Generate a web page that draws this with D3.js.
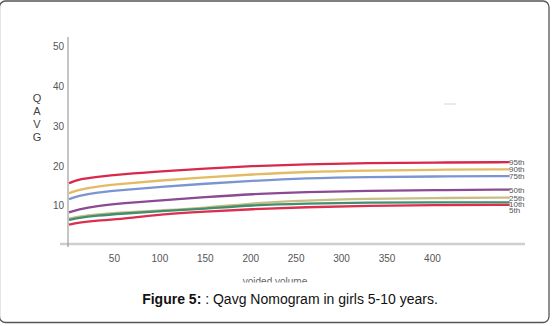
<!DOCTYPE html>
<html>
<head>
<meta charset="utf-8">
<script src="https://cdn.jsdelivr.net/npm/d3@7"></script>
<style>
  html, body { margin: 0; padding: 0; background: #fff; }
  svg { display: block; font-family: "Liberation Sans", Arial, sans-serif; }
</style>
</head>
<body>
<div id="chart"></div>
<script>
// voided volume (ml) sampled along each curve
const volumes = [0, 10, 30, 60, 100, 150, 200, 260, 330, 400, 485];

const p95 = [15.7, 16.7, 17.3, 18.0, 18.7, 19.4, 20.0, 20.5, 20.8, 20.9, 21.0];
const p90 = [13.2, 14.0, 14.9, 15.6, 16.4, 17.2, 17.9, 18.6, 18.9, 19.1, 19.2];
const p75 = [11.7, 12.5, 13.4, 14.0, 14.8, 15.6, 16.3, 17.0, 17.3, 17.4, 17.5];
const p50 = [8.4, 9.1, 10.0, 10.7, 11.4, 12.2, 13.0, 13.5, 13.8, 14.0, 14.1];
const p25 = [6.8, 7.3, 7.9, 8.4, 8.9, 9.5, 10.7, 11.4, 11.8, 12.0, 12.1];
const p10 = [6.5, 7.0, 7.6, 8.1, 8.7, 9.3, 10.2, 10.6, 10.9, 10.9, 10.9];
const p5 = [5.3, 5.8, 6.3, 6.8, 7.9, 8.6, 9.2, 9.7, 10.1, 10.2, 10.3];

const seriesNames = ["95th", "90th", "75th", "50th", "25th", "10th", "5th"];
const seriesValues = [p95, p90, p75, p50, p25, p10, p5];
const seriesColors = ["#d8284c", "#e2bb63", "#7b95d2", "#8c4a94", "#c9bd86", "#3f8f70", "#dc2f4e"];

const xTicks = [50, 100, 150, 200, 250, 300, 350, 400];
const yTicks = [10, 20, 30, 40, 50];
const yLabelLetters = ["Q", "A", "V", "G"];

const width = 553, height = 326;

const x = d3.scaleLinear().domain([0, 500]).range([69, 523.3]);
const y = d3.scaleLinear().domain([0, 50]).range([245.8, 46.7]);

const svg = d3.select("#chart").append("svg")
  .attr("width", width)
  .attr("height", height);

// frame
svg.append("rect")
  .attr("x", -0.5).attr("y", 1)
  .attr("width", 549.5).attr("height", 321.5)
  .attr("rx", 6)
  .attr("fill", "none")
  .attr("stroke", "#555")
  .attr("stroke-width", 1.3);

// x axis (thick gray bar)
svg.append("line")
  .attr("x1", 60).attr("x2", 525)
  .attr("y1", 244).attr("y2", 244)
  .attr("stroke", "#cfcfcf")
  .attr("stroke-width", 2.5);

// y axis
svg.append("line")
  .attr("x1", 68).attr("x2", 68)
  .attr("y1", 37).attr("y2", 247)
  .attr("stroke", "#8a8a8a")
  .attr("stroke-width", 1);

svg.append("g")
  .selectAll("text")
  .data(yTicks)
  .join("text")
  .attr("x", 64)
  .attr("y", (d) => y(d) + 3.5)
  .attr("text-anchor", "end")
  .attr("font-size", 10)
  .attr("fill", "#555")
  .text((d) => d);

svg.append("g")
  .selectAll("text")
  .data(xTicks)
  .join("text")
  .attr("x", (d) => x(d))
  .attr("y", 262)
  .attr("text-anchor", "middle")
  .attr("font-size", 10)
  .attr("fill", "#555")
  .text((d) => d);

svg.append("g")
  .selectAll("text")
  .data(yLabelLetters)
  .join("text")
  .attr("x", 37)
  .attr("y", (d, i) => 102 + i * 13)
  .attr("text-anchor", "middle")
  .attr("font-size", 11)
  .attr("fill", "#444")
  .text((d) => d);

// x axis title, cut off by the caption area
svg.append("clipPath")
  .attr("id", "xclip")
  .append("rect")
  .attr("x", 0).attr("y", 260)
  .attr("width", width).attr("height", 22.5);

svg.append("text")
  .attr("clip-path", "url(#xclip)")
  .attr("x", 275)
  .attr("y", 285)
  .attr("text-anchor", "middle")
  .attr("font-size", 10)
  .attr("fill", "#666")
  .text("voided volume");

// stray mark
svg.append("line")
  .attr("x1", 444).attr("x2", 456)
  .attr("y1", 104).attr("y2", 104)
  .attr("stroke", "#d6d6d6")
  .attr("stroke-width", 1);

const line = d3.line()
  .x((d) => x(d[0]))
  .y((d) => y(d[1]))
  .curve(d3.curveBasis);

const series = seriesNames.map((name, i) => ({
  name,
  color: seriesColors[i],
  points: volumes.map((v, j) => [v, seriesValues[i][j]])
}));

svg.append("g")
  .selectAll("path")
  .data(series)
  .join("path")
  .attr("d", (d) => line(d.points))
  .attr("fill", "none")
  .attr("stroke", (d) => d.color)
  .attr("stroke-width", 2.3)
  .attr("stroke-linecap", "butt");

// end labels, nudged apart so they do not overlap
let prevY = -Infinity;
const labelYs = series.map((d) => {
  const yy = Math.max(y(d.points[d.points.length - 1][1]), prevY + 6);
  prevY = yy;
  return yy;
});

svg.append("g")
  .selectAll("text")
  .data(series)
  .join("text")
  .attr("x", 509)
  .attr("y", (d, i) => labelYs[i] + 3)
  .attr("font-size", 8)
  .attr("fill", "#555")
  .text((d) => d.name);

// caption
const caption = svg.append("text")
  .attr("x", 290)
  .attr("y", 304)
  .attr("text-anchor", "middle")
  .attr("font-size", 14)
  .attr("fill", "#111");
caption.append("tspan").attr("font-weight", "bold").text("Figure 5:");
caption.append("tspan").text(" : Qavg Nomogram in girls 5-10 years.");
</script>
</body>
</html>
